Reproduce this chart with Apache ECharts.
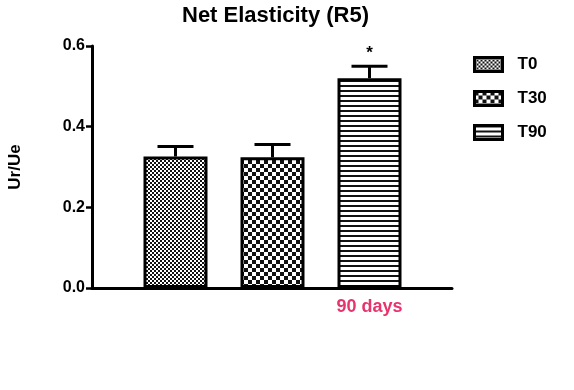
<!DOCTYPE html>
<html><head><meta charset="utf-8">
<script src="https://cdn.jsdelivr.net/npm/echarts@6/dist/echarts.min.js"></script>
<style>html,body{margin:0;padding:0;background:#fff}#c{width:574px;height:390px}</style>
</head><body><div id="c"></div>
<script>
const categories = ['T0', 'T30', 'T90'];
const xLabels = ['', '', '90 days'];
const means = [0.326, 0.324, 0.520];
const errors = [0.025, 0.032, 0.030];
const marks = ['', '', '*'];
const yTicks = [0, 0.2, 0.4, 0.6];

function pattern(kind) {
  const c = document.createElement('canvas');
  const ctx = c.getContext('2d');
  if (kind === 'fine') {
    c.width = 4; c.height = 4;
    ctx.fillStyle = '#fff'; ctx.fillRect(0, 0, 4, 4);
    ctx.fillStyle = '#111';
    ctx.fillRect(0, 0, 2, 2); ctx.fillRect(2, 2, 2, 2);
  } else if (kind === 'check') {
    c.width = 8; c.height = 8;
    ctx.fillStyle = '#fff'; ctx.fillRect(0, 0, 8, 8);
    ctx.fillStyle = '#111';
    ctx.fillRect(0, 0, 4, 4); ctx.fillRect(4, 4, 4, 4);
  } else {
    c.width = 4; c.height = 5;
    ctx.fillStyle = '#fff'; ctx.fillRect(0, 0, 4, 5);
    ctx.fillStyle = '#111'; ctx.fillRect(0, 0, 4, 2);
  }
  return { image: c, repeat: 'repeat' };
}
const patterns = [pattern('fine'), pattern('check'), pattern('stripe')];
const FONT = 'Liberation Sans, Arial, sans-serif';

const chart = echarts.init(document.getElementById('c'));
const barSeries = categories.map((name, i) => ({
  name: name,
  type: 'bar',
  xAxisIndex: 1, yAxisIndex: 1,
  barWidth: 64,
  barGap: '-100%',
  itemStyle: { color: patterns[i], borderColor: '#000', borderWidth: 3 },
  data: means.map((v, j) => (j === i ? v : '-')),
  z: 2
}));

chart.setOption({
  animation: false,
  backgroundColor: '#fff',
  title: {
    text: 'Net Elasticity (R5)', left: 177, top: 0,
    textStyle: { fontFamily: FONT, fontWeight: 'bold', fontSize: 22, color: '#000' }
  },
  legend: {
    orient: 'vertical', left: 468, top: 51, icon: 'rect', itemWidth: 28, itemHeight: 14, itemGap: 17,
    data: categories,
    textStyle: { fontFamily: FONT, fontWeight: 'bold', fontSize: 17, color: '#000', padding: [0, 0, 0, 10] },
    itemStyle: { borderColor: '#000', borderWidth: 3 }
  },
  grid: [
    { left: 92, right: 122, top: 46, bottom: 102, outerBoundsMode: 'none', containLabel: false },
    { left: 127, width: 291, top: 46, bottom: 102, outerBoundsMode: 'none', containLabel: false }
  ],
  xAxis: [
    { type: 'value', gridIndex: 0, min: 0, max: 1,
      axisLine: { show: true, lineStyle: { color: '#000', width: 3 } },
      axisTick: { show: false }, axisLabel: { show: false }, splitLine: { show: false } },
    { type: 'category', gridIndex: 1, data: categories,
      axisLine: { show: false }, axisTick: { show: false },
      axisLabel: { margin: 10, formatter: (v, i) => xLabels[i], color: '#e8336d',
        fontFamily: FONT, fontWeight: 'bold', fontSize: 18 } }
  ],
  yAxis: [
    { type: 'value', gridIndex: 0, min: 0, max: 0.6, interval: 0.2,
      name: 'Ur/Ue', nameLocation: 'middle', nameGap: 68,
      nameTextStyle: { fontFamily: FONT, fontWeight: 'bold', fontSize: 17, color: '#000' },
      axisLine: { show: true, lineStyle: { color: '#000', width: 3 } },
      axisTick: { show: true, length: 6, lineStyle: { color: '#000', width: 2.5 } },
      axisLabel: { margin: 7, color: '#000', fontFamily: FONT, fontWeight: 'bold', fontSize: 16,
        formatter: v => yTicks.indexOf(Math.round(v * 10) / 10) >= 0 ? v.toFixed(1) : '' },
      splitLine: { show: false } },
    { type: 'value', gridIndex: 1, min: 0, max: 0.6, show: false }
  ],
  series: barSeries.concat([{
    type: 'custom',
    xAxisIndex: 1, yAxisIndex: 1,
    z: 5,
    data: means.map((m, i) => [i, m, m + errors[i]]),
    renderItem: function (params, api) {
      const i = api.value(0);
      const base = api.coord([i, api.value(1)]);
      const top = api.coord([i, api.value(2)]);
      const half = 18;
      const style = { stroke: '#000', lineWidth: 3 };
      const children = [
        { type: 'line', shape: { x1: base[0], y1: base[1], x2: top[0], y2: top[1] }, style: style },
        { type: 'line', shape: { x1: top[0] - half, y1: top[1], x2: top[0] + half, y2: top[1] }, style: style }
      ];
      if (marks[i]) {
        children.push({ type: 'text', x: top[0], y: top[1] - 4,
          style: { text: marks[i], fill: '#000', font: 'bold 17px Liberation Sans', align: 'center', verticalAlign: 'bottom' } });
      }
      return { type: 'group', children: children };
    }
  }])
});
</script></body></html>
